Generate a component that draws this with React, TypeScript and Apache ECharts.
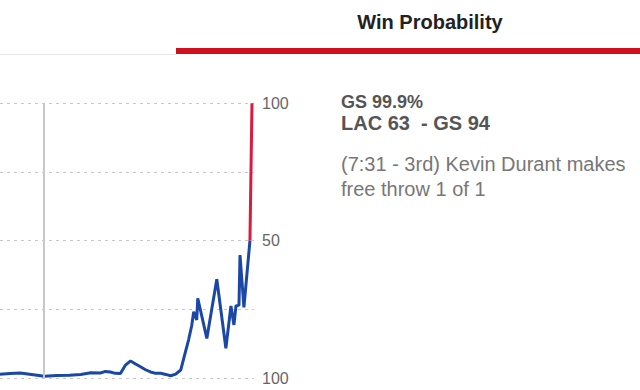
import React, { useEffect, useRef } from "react";
import * as echarts from "echarts";

// Game clock (minutes elapsed) and GS win probability (%)
const gameMinutes = [
  8.5, 9.3, 10.1, 11.0, 12.0, 13.0, 14.0, 14.9, 15.7, 16.46, 16.86, 17.25, 17.65, 18.05,
  18.25, 18.45, 18.85, 19.25, 19.64, 20.04, 20.44, 20.84, 21.24, 21.64, 22.03, 22.43,
  22.83, 23.1, 23.45, 23.7, 23.86, 24.1, 24.18, 24.9, 25.69, 26.41, 26.81, 27.05, 27.21,
  27.45, 27.53, 27.84, 28.32, 28.48,
];
const gsWinPct = [
  1.4, 1.6, 1.8, 1.3, 0.6, 0.9, 1.0, 1.3, 1.9, 1.8, 2.4, 2.2, 1.7, 1.6,
  3.2, 4.7, 6.2, 5.1, 4.1, 3.0, 2.2, 1.7, 1.7, 1.3, 0.8, 1.4,
  2.9, 7.7, 13.8, 19.0, 24.1, 21.1, 29.0, 14.4, 35.9, 10.8, 26.2, 19.3, 26.2,
  26.5, 44.7, 25.7, 50.0, 99.9,
];
const quarterMarks = [12];
const yTickLabels: Record<number, string> = { 0: "100", 50: "50", 100: "100" };

const headerTitle = "Win Probability";
const infoLines = ["GS 99.9%", "LAC 63\u00a0 - GS 94", "(7:31 - 3rd) Kevin Durant makes", "free throw 1 of 1"];

const FONT = "'Liberation Sans', Arial, Helvetica, sans-serif";
const BLUE = "#1b47a6";
const RED = "#dc1a40";

export default function App() {
  const ref = useRef<HTMLDivElement>(null);
  useEffect(() => {
    if (!ref.current) return;
    const chart = echarts.init(ref.current, null, { renderer: "svg" });
    const all = gameMinutes.map((m, i) => [m, gsWinPct[i]]);
    // split where the line reaches 50%: below in blue, above in red
    const splitIdx = gsWinPct.findIndex((v) => v >= 50);
    const blueData = all.slice(0, splitIdx + 1);
    const redData = all.slice(splitIdx);
    chart.setOption({
      animation: false,
      backgroundColor: "#ffffff",
      grid: { left: 0, top: 103, width: 254, height: 275, containLabel: false },
      xAxis: {
        type: "value",
        min: 8.5,
        max: 28.64,
        show: false,
        splitLine: { show: false },
      },
      yAxis: {
        type: "value",
        position: "right",
        min: 0,
        max: 100,
        interval: 25,
        axisLine: { show: false },
        axisTick: { show: false },
        axisLabel: {
          margin: 8,
          color: "#666",
          fontSize: 16,
          fontFamily: FONT,
          formatter: (v: number) => yTickLabels[v] ?? "",
        },
        splitLine: { show: true, lineStyle: { color: "#c8c8c8", type: [3, 4], width: 1 } },
      },
      series: [
        {
          type: "line",
          data: quarterMarks.map((q) => [q, 0]),
          symbol: "none",
          lineStyle: { opacity: 0 },
          silent: true,
          markLine: {
            silent: true,
            symbol: ["none", "none"],
            label: { show: false },
            lineStyle: { color: "#c8c8c8", type: "solid", width: 2 },
            data: quarterMarks.map((q) => ({ xAxis: q })),
          },
          z: 1,
        },
        {
          type: "line",
          data: blueData,
          showSymbol: false,
          symbol: "none",
          lineStyle: { width: 3, color: BLUE },
          itemStyle: { color: BLUE },
          z: 3,
        },
        {
          type: "line",
          data: redData,
          showSymbol: false,
          symbol: "none",
          lineStyle: { width: 3, color: RED },
          itemStyle: { color: RED },
          z: 3,
        },
      ],
      graphic: [
        { type: "rect", shape: { x: 0, y: 54, width: 176, height: 1 }, style: { fill: "#e6e6e6" } },
        { type: "rect", shape: { x: 176, y: 48, width: 464, height: 6 }, style: { fill: "#d0101c" } },
        {
          type: "text",
          x: 430,
          y: 22,
          style: {
            text: headerTitle,
            fill: "#222",
            font: `bold 20px ${FONT}`,
            textAlign: "center",
            textVerticalAlign: "middle",
          },
        },
        {
          type: "text",
          x: 341,
          y: 102,
          style: { text: infoLines[0], fill: "#555", font: `bold 18px ${FONT}`, textVerticalAlign: "middle" },
        },
        {
          type: "text",
          x: 341,
          y: 123,
          style: { text: infoLines[1], fill: "#555", font: `bold 20px ${FONT}`, textVerticalAlign: "middle" },
        },
        {
          type: "text",
          x: 341,
          y: 164,
          style: { text: infoLines[2], fill: "#777", font: `20px ${FONT}`, textVerticalAlign: "middle" },
        },
        {
          type: "text",
          x: 341,
          y: 189,
          style: { text: infoLines[3], fill: "#777", font: `20px ${FONT}`, textVerticalAlign: "middle" },
        },
      ],
    });
    return () => chart.dispose();
  }, []);
  return (
    <div
      ref={ref}
      style={{ position: "fixed", left: 0, top: 0, width: 640, height: 390, background: "#fff" }}
    />
  );
}
